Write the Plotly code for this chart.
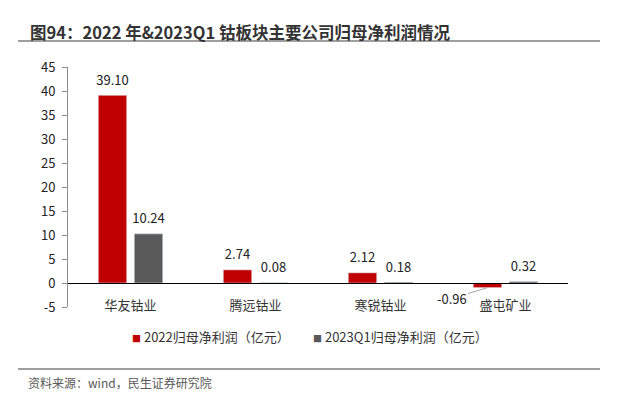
import plotly.graph_objects as go

categories = ["华友钴业", "腾远钴业", "寒锐钴业", "盛屯矿业"]
profit_2022 = [39.10, 2.74, 2.12, -0.96]
profit_2023q1 = [10.24, 0.08, 0.18, 0.32]
series_names = ["2022归母净利润（亿元）", "2023Q1归母净利润（亿元）"]
y_ticks = [-5, 0, 5, 10, 15, 20, 25, 30, 35, 40, 45]
y_ticktext = ["-5", "0", "5", "10", "15", "20", "25", "30", "35", "40", "45"]
title_text = "图94：2022 年&2023Q1 钴板块主要公司归母净利润情况"
source_text = "资料来源：wind，民生证券研究院"

RED = "#c00000"
GRAY = "#595959"
FONT = "Noto Sans CJK SC"
W, H = 617, 401
L, R, T, B = 68, 49, 67, 94
PW, PH = W - L - R, H - T - B
BARGAP = 0.424
YMIN, YMAX = -5, 45


def px(x):
    return (x - L) / PW


def py(y):
    return (H - B - y) / PH


fig = go.Figure()
colors = [RED, GRAY]
for vals, name, col in zip([profit_2022, profit_2023q1], series_names, colors):
    fig.add_trace(go.Bar(x=categories, y=vals, marker_color=col, name=name,
                         showlegend=False))
# value labels (grouped scatter text, aligned with the bars)
for vals, name in zip([profit_2022, profit_2023q1], series_names):
    fig.add_trace(go.Scatter(x=categories, y=vals, mode="markers+text", name=name,
                             text=[f"{v:.2f}" if v >= 0 else "" for v in vals],
                             textposition="top center", cliponaxis=False,
                             marker=dict(size=10, opacity=0),
                             textfont=dict(size=13, color="#222", family=FONT),
                             showlegend=False, hoverinfo="skip"))

# negative value label with leader line
slot_offset = (1 - BARGAP) / 4
for i, v in enumerate(profit_2022):
    if v < 0:
        fig.add_annotation(x=i - slot_offset, y=v, xref="x", yref="y", text=f"{v:.2f}",
                           showarrow=True, arrowhead=0, arrowwidth=1, arrowcolor="#a6a6a6",
                           ax=-36, ay=11, standoff=0,
                           font=dict(size=13, color="#222", family=FONT))

fig.update_layout(
    width=W, height=H,
    margin=dict(l=L, r=R, t=T, b=B, pad=0),
    plot_bgcolor="white", paper_bgcolor="white",
    font=dict(family=FONT, size=13, color="#333"),
    barmode="group", bargap=BARGAP, bargroupgap=0.21,
    scattermode="group", scattergap=BARGAP,
    showlegend=False,
    xaxis=dict(type="category", anchor="free", position=(0 - YMIN) / (YMAX - YMIN),
               showline=True, linecolor="black", linewidth=1, ticks="",
               tickfont=dict(size=13, color="#333"), ticklabelstandoff=10,
               range=[-0.5, 3.5], showgrid=False, zeroline=False),
    yaxis=dict(range=[YMIN, YMAX], tickvals=y_ticks, ticktext=y_ticktext,
               showline=True, linecolor="#8c8c8c",
               linewidth=1, ticks="outside", ticklen=5, tickcolor="#8c8c8c",
               ticklabelstandoff=4,
               showgrid=False, zeroline=False, tickfont=dict(size=13, color="#222")),
)

# title, rules and source
fig.add_annotation(x=px(28), y=py(32), xref="paper", yref="paper", text=f"<b>{title_text}</b>",
                   showarrow=False, xanchor="left", yanchor="middle",
                   font=dict(size=16.5, color="#333", family=FONT))
fig.add_annotation(x=px(26), y=py(382), xref="paper", yref="paper", text=source_text,
                   showarrow=False, xanchor="left", yanchor="middle",
                   font=dict(size=12, color="#595959", family=FONT))
for yy in (41, 369):
    fig.add_shape(type="line", xref="paper", yref="paper",
                  x0=px(18), x1=px(600), y0=py(yy), y1=py(yy),
                  line=dict(color="#7f7f7f", width=1.5))

# legend (manual, to match the compact swatch spacing)
for name, col, x0 in zip(series_names, colors, (130, 311)):
    fig.add_annotation(x=px(x0), y=py(336), xref="paper", yref="paper",
                       text=f'<span style="color:{col};font-size:9px">■</span> {name}',
                       showarrow=False, xanchor="left", yanchor="middle",
                       font=dict(size=13, color="#333", family=FONT))

fig.write_html("out.html", config={"displayModeBar": False},
               post_script="document.body.style.margin='0';")
